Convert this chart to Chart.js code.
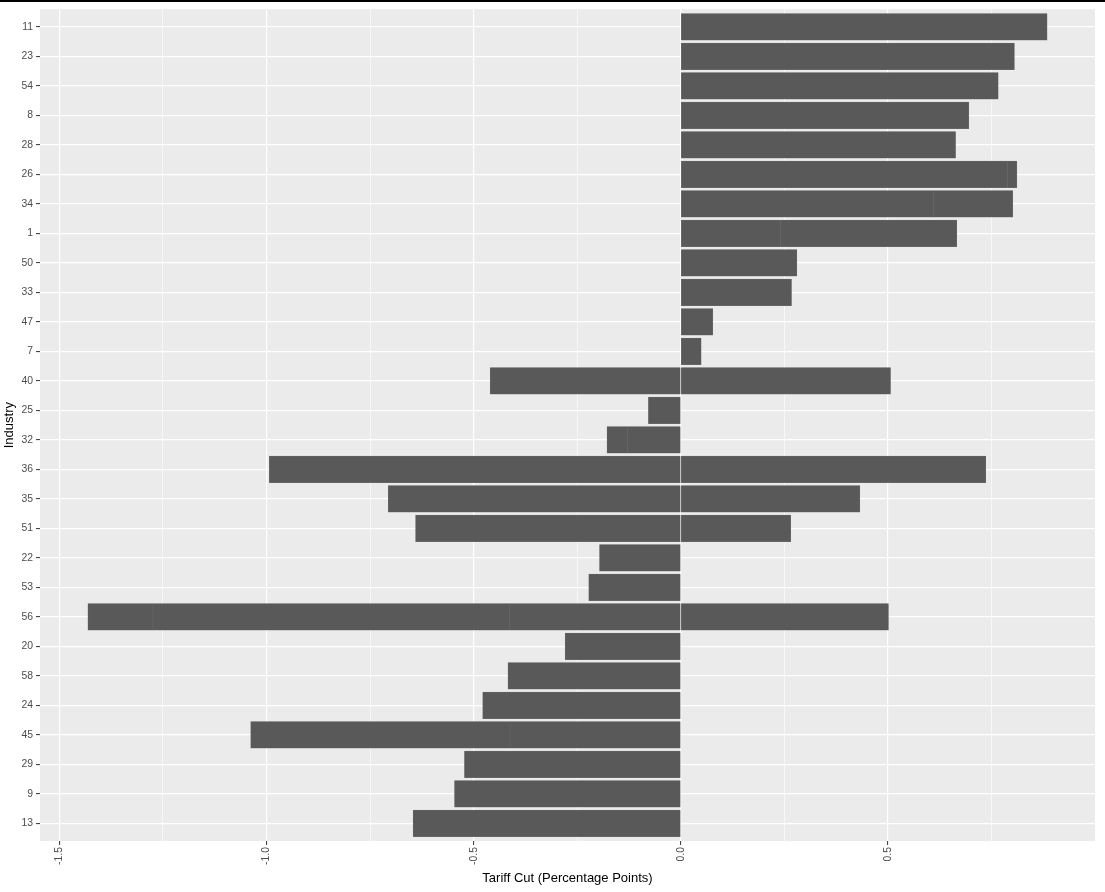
<!DOCTYPE html>
<html>
<head>
<meta charset="utf-8">
<title>Tariff Cut by Industry</title>
<script src="https://cdn.jsdelivr.net/npm/chart.js@4.4.1/dist/chart.umd.min.js"></script>
<style>
  html, body { margin: 0; padding: 0; background: #ffffff; }
  #wrap { position: relative; width: 1105px; height: 892px; }
  #topline { position: absolute; left: 0; top: 0; width: 1105px; height: 2px; background: #000000; }
</style>
</head>
<body>
<div id="wrap">
  <canvas id="chart" width="1105" height="892"></canvas>
  <div id="topline"></div>
</div>
<script>
// Industries, top to bottom
const industries = ['11', '23', '54', '8', '28', '26', '34', '1', '50', '33', '47', '7', '40', '25',
                    '32', '36', '35', '51', '22', '53', '56', '20', '58', '24', '45', '29', '9', '13'];

// Stacked pieces of each bar (null = no piece)
const posMain  = [0.884, 0.805, 0.766, 0.695, 0.663, 0.788, 0.609, 0.240, 0.280, 0.267, 0.077, 0.049, 0.506, null,
                  null, 0.736, 0.432, 0.265, null, null, 0.501, null, null, null, null, null, null, null];
const posExtra = [null, null, null, null, null, 0.023, 0.192, 0.426, null, null, null, null, null, null,
                  null, null, null, null, null, null, null, null, null, null, null, null, null, null];
const negMain  = [null, null, null, null, null, null, null, null, null, null, null, null, -0.460, -0.078,
                  -0.128, -0.993, -0.706, -0.640, -0.196, -0.222, -0.414, -0.279, -0.417, -0.478, -0.412, -0.522, -0.546, -0.646];
const negExtra = [null, null, null, null, null, null, null, null, null, null, null, null, null, null,
                  -0.050, null, null, null, null, null, -0.860, null, null, null, -0.626, null, null, null];
const negOuter = [null, null, null, null, null, null, null, null, null, null, null, null, null, null,
                  null, null, null, null, null, null, -0.157, null, null, null, null, null, null, null];

const xBreaks = [-1.5, -1.0, -0.5, 0.0, 0.5];

// x limits like ggplot: stacked extremes plus 5% each side
const totals = industries.map((_, i) => {
  const pos = (posMain[i] || 0) + (posExtra[i] || 0);
  const neg = (negMain[i] || 0) + (negExtra[i] || 0) + (negOuter[i] || 0);
  return [neg, pos];
});
const lo = Math.min(...totals.map(t => t[0]));
const hi = Math.max(...totals.map(t => t[1]));
const pad = (hi - lo) * 0.05;

const barFill = '#595959';
const barEdge = '#737373';

function piece(data) {
  return {
    data: data,
    backgroundColor: barFill,
    borderColor: barEdge,
    borderWidth: 0.5,
    borderSkipped: false,
    inflateAmount: 0.4,
    barPercentage: 0.9,
    categoryPercentage: 1.0
  };
}

const isMajor = v => xBreaks.some(b => Math.abs(b - v) < 1e-6);

// grey panel behind the grid
const panelBg = {
  id: 'panelBg',
  beforeDraw(chart) {
    const a = chart.chartArea;
    chart.ctx.save();
    chart.ctx.fillStyle = '#EBEBEB';
    chart.ctx.fillRect(a.left, a.top, a.right - a.left, a.bottom - a.top);
    chart.ctx.restore();
  }
};

new Chart(document.getElementById('chart'), {
  type: 'bar',
  data: {
    labels: industries,
    datasets: [piece(posMain), piece(posExtra), piece(negMain), piece(negExtra), piece(negOuter)]
  },
  options: {
    indexAxis: 'y',
    responsive: false,
    animation: false,
    layout: { padding: { top: 7, right: 10, left: 0, bottom: 0 } },
    plugins: {
      legend: { display: false },
      tooltip: { enabled: false }
    },
    scales: {
      x: {
        type: 'linear',
        stacked: true,
        min: lo - pad,
        max: hi + pad,
        border: { display: false },
        grid: {
          color: '#FFFFFF',
          lineWidth: ctx => (ctx.tick && isMajor(ctx.tick.value)) ? 1.2 : 0.6,
          tickColor: ctx => (ctx.tick && isMajor(ctx.tick.value)) ? '#333333' : 'rgba(0,0,0,0)',
          tickLength: 4,
          tickWidth: 1
        },
        ticks: {
          stepSize: 0.25,
          includeBounds: false,
          autoSkip: false,
          minRotation: 90,
          maxRotation: 90,
          padding: 2,
          color: '#4D4D4D',
          font: { family: '"Liberation Sans", Arial, sans-serif', size: 10.4 },
          callback: v => isMajor(v) ? v.toFixed(1) : ''
        },
        title: {
          display: true,
          text: 'Tariff Cut (Percentage Points)',
          color: '#000000',
          font: { family: '"Liberation Sans", Arial, sans-serif', size: 13 },
          padding: { top: 0, bottom: 6 }
        },
        afterFit: s => { s.height = 51; }
      },
      y: {
        type: 'category',
        stacked: true,
        offset: true,
        border: { display: false },
        grid: {
          offset: false,
          color: '#FFFFFF',
          lineWidth: 1.2,
          tickColor: '#333333',
          tickLength: 4,
          tickWidth: 1
        },
        ticks: {
          autoSkip: false,
          padding: 3,
          color: '#4D4D4D',
          font: { family: '"Liberation Sans", Arial, sans-serif', size: 10.4 }
        },
        title: {
          display: true,
          text: 'Industry',
          color: '#000000',
          font: { family: '"Liberation Sans", Arial, sans-serif', size: 13 },
          padding: { top: 2, bottom: 0 }
        },
        // ggplot pads discrete axes by 0.6 of a category, not 0.5
        afterBuildTicks: s => { s._valueRange += 0.2; s._startValue -= 0.1; },
        afterFit: s => { s.width = 40; }
      }
    }
  },
  plugins: [panelBg]
});
</script>
</body>
</html>
